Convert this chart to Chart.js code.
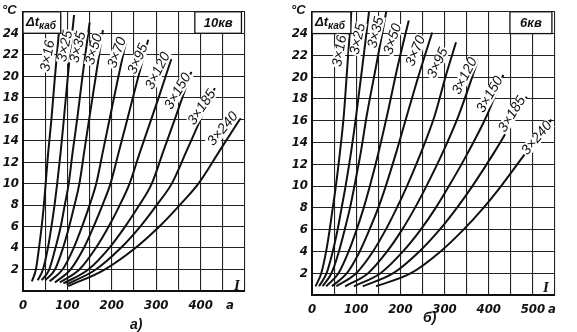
<!DOCTYPE html>
<html>
<head>
<meta charset="utf-8">
<script src="https://cdn.jsdelivr.net/npm/chart.js@4.4.0/dist/chart.umd.min.js"></script>
<style>
    html, body { margin: 0; padding: 0; background: #fff; }
    #wrap { position: relative; width: 577px; height: 332px; }
    .panel { position: absolute; top: 0; height: 332px; }
</style>
</head>
<body>
<div id="wrap">
    <div class="panel" style="left:0;width:290px"><canvas id="chart10"></canvas></div>
    <div class="panel" style="left:290px;width:287px"><canvas id="chart6"></canvas></div>
</div>
<script>
// cable cross sections, one curve each
const cableNames = ['3×16', '3×25', '3×35', '3×50', '3×70', '3×95', '3×120', '3×150', '3×185', '3×240'];

// x axis tick labels (current, а)
const xTickValues10 = [0, 100, 200, 300, 400, 466];
const xTickText10 = ['0', '100', '200', '300', '400', 'а'];
const xTickValues6 = [0, 100, 200, 300, 400, 500, 543];
const xTickText6 = ['0', '100', '200', '300', '400', '500', 'а'];

// 10 kV: [current I, а ; temperature rise Δt, °C]
const kv10_16 = [[20, 0.9], [29, 2], [36, 4], [42, 6], [47, 8], [51, 10], [57, 13], [64, 16], [71, 19.5], [84, 25.5]];
const kv10_25 = [[33, 1.0], [45, 2], [56, 4], [64, 6], [71, 8], [77, 10], [85, 13], [92, 16], [101, 20], [115, 25.7]];
const kv10_35 = [[42, 1.0], [59, 2], [73, 4], [85, 6], [94, 8], [103, 10], [112, 13], [122, 16], [134, 20], [150, 25]];
const kv10_50 = [[50, 1.0], [72, 2], [90, 4], [104, 6], [116, 8], [127, 10], [138, 13], [149, 16], [164, 20], [180, 24.3]];
const kv10_70 = [[60, 0.9], [89, 2], [114, 4], [133, 6], [150, 8], [165, 10], [180, 13], [195, 16], [215, 20], [233, 23.4]];
const kv10_95 = [[72, 0.8], [107, 2], [137, 4], [159, 6], [179, 8], [197, 10], [216, 13], [235, 16], [260, 20], [282, 23.4]];
const kv10_120 = [[83, 0.8], [127, 2], [164, 4], [193, 6], [218, 8], [240, 10], [264, 13], [289, 16], [307, 18.2], [334, 21.6]];
const kv10_150 = [[91, 0.7], [147, 2], [194, 4], [230, 6], [262, 8], [290, 10], [316, 13], [342, 16], [379, 20.4]];
const kv10_185 = [[98, 0.6], [164, 2], [220, 4], [264, 6], [301, 8], [335, 10], [368, 13], [400, 16], [432, 18.9]];
const kv10_240 = [[102, 0.45], [184, 2], [253, 4], [307, 6], [353, 8], [395, 10], [442, 13], [490, 16.1]];

// 6 kV
const kv6_16 = [[8, 0.8], [21, 2], [32, 4], [40, 6], [47, 8], [54, 10], [63, 13], [72, 16.5], [80, 21], [89, 26]];
const kv6_25 = [[16, 0.8], [33, 2], [47, 4], [58, 6], [67, 8], [76, 10], [88, 13], [100, 16.5], [114, 21], [129, 26]];
const kv6_35 = [[24, 0.8], [44, 2], [61, 4], [74, 6], [86, 8], [96, 10], [110, 13], [124, 16.5], [145, 21], [168, 26]];
const kv6_50 = [[32, 0.8], [60, 2], [83, 4], [101, 6], [117, 8], [131, 10], [150, 13], [170, 16.5], [194, 21], [219, 25.2]];
const kv6_70 = [[45, 0.8], [79, 2], [108, 4], [130, 6], [150, 8], [167, 10], [190, 13], [215, 16.5], [244, 20.5], [272, 24.1]];
const kv6_95 = [[55, 0.8], [100, 2], [138, 4], [167, 6], [192, 8], [215, 10], [246, 13], [278, 16.5], [302, 20], [326, 23.2]];
const kv6_120 = [[75, 0.8], [127, 2], [170, 4], [204, 6], [233, 8], [259, 10], [295, 13], [332, 16.5], [376, 21.6]];
const kv6_150 = [[95, 0.8], [155, 2], [206, 4], [246, 6], [280, 8], [310, 10], [352, 13], [396, 16.5], [433, 20.2]];
const kv6_185 = [[115, 0.8], [184, 2], [243, 4], [289, 6], [328, 8], [363, 10], [411, 13], [462, 16.5], [486, 18.2]];
const kv6_240 = [[145, 0.8], [224, 2], [291, 4], [343, 6], [388, 8], [428, 10], [483, 13], [542, 16.1]];

const curves10 = [kv10_16, kv10_25, kv10_35, kv10_50, kv10_70, kv10_95, kv10_120, kv10_150, kv10_185, kv10_240];
const curves6 = [kv6_16, kv6_25, kv6_35, kv6_50, kv6_70, kv6_95, kv6_120, kv6_150, kv6_185, kv6_240];

const tickFamily = '"Liberation Sans Narrow", "DejaVu Sans Condensed", "Liberation Sans", sans-serif';
const textFamily = '"Liberation Sans", "DejaVu Sans", sans-serif';
const ink = '#111';

// texts drawn over the grid: curve names, boxes, units, caption
const overlay = {
    id: 'overlay',
    afterDatasetsDraw(chart, args, o) {
        const ctx = chart.ctx;
        const xs = chart.scales.x;
        const ys = chart.scales.y;
        ctx.save();
        ctx.fillStyle = ink;
        ctx.strokeStyle = ink;

        // boxes in the top row
        o.boxes.forEach(function (b) {
            const x1 = xs.getPixelForValue(b.from);
            const x2 = xs.getPixelForValue(b.to);
            const y1 = ys.getPixelForValue(26);
            const y2 = ys.getPixelForValue(24);
            ctx.fillStyle = '#fff';
            ctx.fillRect(x1, y1, x2 - x1, y2 - y1);
            ctx.lineWidth = 1.3;
            ctx.strokeRect(x1, y1, x2 - x1, y2 - y1);
            ctx.fillStyle = ink;
            ctx.textBaseline = 'alphabetic';
            if (b.sub) {
                ctx.textAlign = 'left';
                ctx.font = 'italic bold 13px ' + textFamily;
                ctx.fillText(b.text, x1 + 3, y1 + 14);
                const w = ctx.measureText(b.text).width;
                ctx.font = 'italic bold 10px ' + textFamily;
                ctx.fillText(b.sub, x1 + 3 + w, y1 + 17);
            } else {
                ctx.textAlign = 'center';
                ctx.font = 'italic bold 13px ' + textFamily;
                ctx.fillText(b.text, (x1 + x2) / 2, y1 + 15);
            }
        });

        // cable names along the curves
        ctx.font = 'italic 14px ' + textFamily;
        ctx.textAlign = 'center';
        ctx.textBaseline = 'middle';
        o.labels.forEach(function (p, i) {
            const px = xs.getPixelForValue(p[0]);
            const py = ys.getPixelForValue(p[1]);
            ctx.save();
            ctx.translate(px, py);
            ctx.rotate(p[2] * Math.PI / 180);
            const w = ctx.measureText(cableNames[i]).width;
            ctx.fillStyle = '#fff';
            ctx.fillRect(-w / 2 - 1, -6, w + 2, 12);
            ctx.fillStyle = ink;
            ctx.fillText(cableNames[i], 0, 0);
            ctx.restore();
        });

        // unit, axis letter and caption
        ctx.textAlign = 'left';
        ctx.textBaseline = 'alphabetic';
        ctx.font = 'italic bold 13px ' + textFamily;
        ctx.fillText('°C', o.degX, 14);
        ctx.font = 'italic bold 15px "Liberation Serif", serif';
        ctx.fillText('I', o.iX, o.iY);
        ctx.font = 'italic bold 14px ' + textFamily;
        ctx.fillText(o.caption, o.capX, o.capY);
        ctx.restore();
    }
};

function makePanel(canvasId, curves, cfg) {
    const ctx = document.getElementById(canvasId);
    new Chart(ctx, {
        type: 'line',
        data: {
            datasets: curves.map(function (c, i) {
                return {
                    label: cableNames[i],
                    data: c.map(function (p) { return { x: p[0], y: p[1] }; }),
                    borderColor: ink,
                    borderWidth: 2,
                    pointRadius: 0,
                    fill: false,
                    cubicInterpolationMode: 'monotone'
                };
            })
        },
        options: {
            responsive: true,
            maintainAspectRatio: false,
            animation: false,
            layout: { padding: { left: 0, top: 2, right: cfg.rightPad, bottom: 0 } },
            plugins: {
                legend: { display: false },
                tooltip: { enabled: false },
                overlay: cfg.overlay
            },
            scales: {
                x: {
                    type: 'linear',
                    position: 'bottom',
                    min: 0,
                    max: cfg.xMax,
                    weight: 0,
                    ticks: { display: false, stepSize: 50 },
                    grid: { color: '#222', lineWidth: 1.1, drawTicks: false },
                    border: { display: true, color: ink, width: 2 },
                    afterFit: function (s) { s.height = 0; }
                },
                xl: {
                    type: 'linear',
                    position: 'bottom',
                    min: 0,
                    max: cfg.xMax,
                    weight: 1,
                    afterBuildTicks: function (s) {
                        s.ticks = cfg.xTicks.map(function (v) { return { value: v }; });
                    },
                    ticks: {
                        autoSkip: false,
                        maxRotation: 0,
                        padding: 7,
                        color: ink,
                        font: { family: tickFamily, size: 13, style: 'italic', weight: 'bold' },
                        callback: function (v, i) { return cfg.xText[i]; }
                    },
                    grid: { display: false, drawTicks: false },
                    border: { display: false },
                    afterFit: function (s) { s.height = cfg.bottomH; }
                },
                y: {
                    min: 0,
                    max: 26,
                    ticks: {
                        stepSize: 2,
                        padding: 4,
                        color: ink,
                        font: { family: tickFamily, size: 13, style: 'italic', weight: 'bold' },
                        callback: function (v) { return (v === 0 || v === 26) ? '' : v; }
                    },
                    grid: { color: '#222', lineWidth: 1.1, drawTicks: false },
                    border: { display: true, color: ink, width: 2 },
                    afterFit: function (s) { s.width = cfg.yWidth; }
                }
            }
        },
        plugins: [overlay]
    });
}

document.addEventListener('DOMContentLoaded', function () {

    // 10 kV panel
    makePanel('chart10', curves10, {
        xMax: 500, xTicks: xTickValues10, xText: xTickText10,
        rightPad: 45, yWidth: 23, bottomH: 41,
        overlay: {
            boxes: [
                { from: 0, to: 85, text: 'Δt', sub: 'каб' },
                { from: 387, to: 492, text: '10кв' }
            ],
            labels: [
                [56, 21.9, -80], [95, 22.8, -78], [124, 22.7, -76], [160, 22.5, -74], [212, 22.2, -70],
                [259, 21.6, -66], [304, 20.5, -64], [349, 18.6, -60], [403, 17.1, -56], [450, 15.1, -50]
            ],
            degX: 2, iX: 234, iY: 290, caption: 'а)', capX: 130, capY: 329
        }
    });

    // 6 kV panel
    makePanel('chart6', curves6, {
        xMax: 550, xTicks: xTickValues6, xText: xTickText6,
        rightPad: 22, yWidth: 22, bottomH: 37,
        overlay: {
            boxes: [
                { from: 0, to: 88, text: 'Δt', sub: 'каб' },
                { from: 448, to: 543, text: '6кв' }
            ],
            labels: [
                [63, 22.4, -80], [104, 23.5, -78], [145, 24.1, -76], [183, 23.5, -72], [235, 22.4, -68],
                [285, 21.3, -65], [346, 20.1, -63], [403, 18.4, -60], [453, 16.6, -58], [509, 14.4, -50]
            ],
            degX: 1, iX: 253, iY: 292, caption: 'б)', capX: 133, capY: 322
        }
    });

});
</script>
</body>
</html>
